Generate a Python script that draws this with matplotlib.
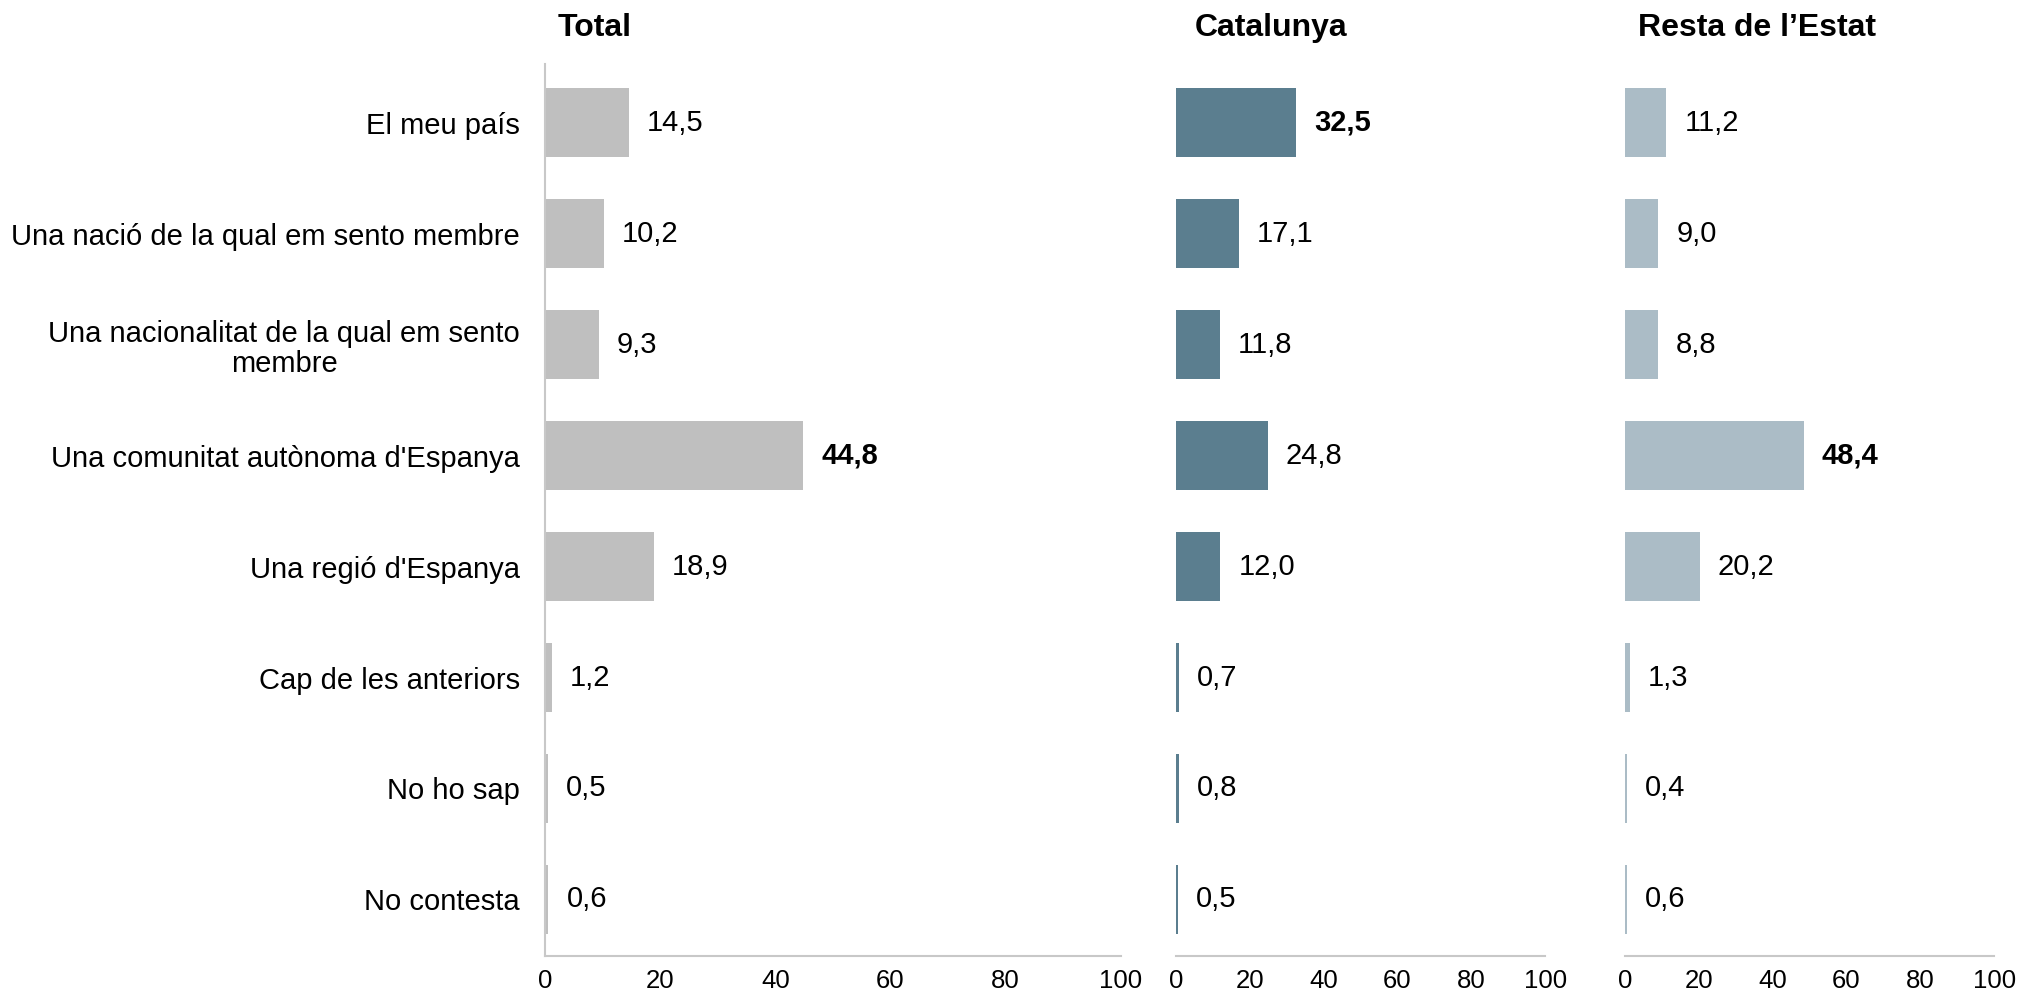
import matplotlib
matplotlib.use("Agg")
import matplotlib.pyplot as plt

plt.rcParams['font.family'] = ['Liberation Sans', 'DejaVu Sans']

# data
categories = [
    "El meu país",
    "Una nació de la qual em sento membre",
    "Una nacionalitat de la qual em sento\nmembre",
    "Una comunitat autònoma d'Espanya",
    "Una regió d'Espanya",
    "Cap de les anteriors",
    "No ho sap",
    "No contesta",
]
total = [14.5, 10.2, 9.3, 44.8, 18.9, 1.2, 0.5, 0.6]
catalunya = [32.5, 17.1, 11.8, 24.8, 12.0, 0.7, 0.8, 0.5]
resta = [11.2, 9.0, 8.8, 48.4, 20.2, 1.3, 0.4, 0.6]

panel_titles = ["Total", "Catalunya", "Resta de l’Estat"]
panel_colors = ["#bfbfbf", "#5b7e8f", "#abbcc6"]
xticks = [0, 20, 40, 60, 80, 100]

fig = plt.figure(figsize=(20.2, 10), dpi=100)

# axes boxes in figure fraction (left, width)
boxes = [(0.2698, 0.2851), (0.5822, 0.1827), (0.8045, 0.1827)]
title_x = [0.2943, 0.6290, 0.8696]
bottom, height = 0.044, 0.892

series = [total, catalunya, resta]
ypos = list(range(len(categories)))

for i, (vals, (left, width)) in enumerate(zip(series, boxes)):
    ax = fig.add_axes([left, bottom, width, height])
    ax.barh(ypos, vals, height=0.62, color=panel_colors[i])
    ax.set_xlim(0, 100)
    ax.set_ylim(7.51, -0.53)
    ax.set_xticks(xticks)
    ax.set_xticklabels([str(t) for t in xticks])
    ax.tick_params(axis='x', length=0, pad=9.5, labelsize=18.5)

    for s in ['top', 'right']:
        ax.spines[s].set_visible(False)
    ax.spines['bottom'].set_color('#c8c8c8')
    ax.spines['bottom'].set_linewidth(1.5)
    if i == 0:
        ax.spines['left'].set_color('#c8c8c8')
        ax.spines['left'].set_linewidth(1.5)
        ax.set_yticks(ypos)
        ax.set_yticklabels(categories, fontsize=21)
        ax.tick_params(axis='y', length=0, pad=18)
        for lab in ax.get_yticklabels():
            lab.set_multialignment('center')
            lab.set_linespacing(1.1)
    else:
        ax.spines['left'].set_visible(False)
        ax.set_yticks([])

    vmax = max(vals)
    for y, v in zip(ypos, vals):
        ax.annotate(f"{v:.1f}".replace('.', ','), xy=(v, y), xytext=(13, 0),
                    textcoords='offset points', va='center', ha='left',
                    fontsize=21,
                    fontweight='bold' if v == vmax else 'normal')

    fig.text(title_x[i], 0.972, panel_titles[i], ha='center', va='center',
             fontsize=23, fontweight='bold')

fig.savefig("out.png", dpi=100)
